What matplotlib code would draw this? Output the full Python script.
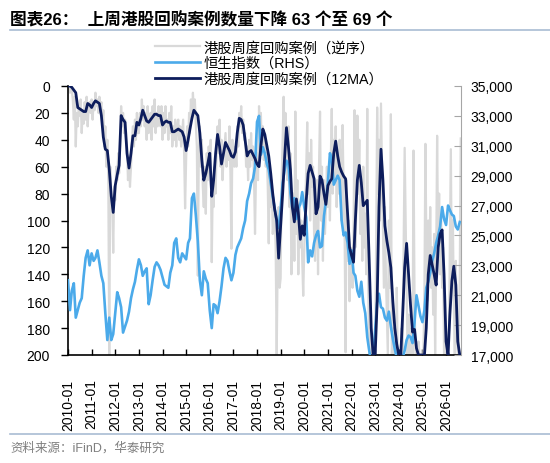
import numpy as np
import pandas as pd
import matplotlib
matplotlib.use('Agg')
import matplotlib.pyplot as plt
import matplotlib.dates as mdates
from matplotlib.lines import Line2D
from matplotlib.ticker import FuncFormatter, MultipleLocator, FixedLocator

plt.rcParams['font.family'] = ['Liberation Sans', 'Noto Sans CJK SC', 'DejaVu Sans']
plt.rcParams['font.size'] = 10

# Casos de recompra semanales (eje izquierdo invertido), leidos cada media mes
recompra_semanal = [
    0, 2, 5, 0, 3, 10, 25, 8, 45, 20, 30, 15, 22, 10, 35, 18, 28, 12, 25, 8, 30, 15, 12, 20,
    10, 25, 12, 18, 5, 15, 10, 20, 8, 18, 12, 30, 18, 45, 30, 60, 40, 70, 200, 60, 90, 85, 124, 75,
    85, 60, 70, 50, 65, 45, 15, 30, 20, 35, 25, 40, 45, 70, 55, 75, 60, 40, 30, 45, 25, 40, 20, 35,
    35, 20, 30, 10, 25, 15, 30, 20, 40, 15, 35, 25, 20, 40, 15, 30, 10, 35, 20, 30, 15, 25, 30, 15,
    40, 20, 35, 15, 30, 25, 40, 20, 35, 15, 45, 30, 40, 25, 45, 30, 25, 40, 30, 45, 35, 25, 50, 91,
    55, 30, 45, 20, 35, 10, 25, 5, 20, 10, 30, 45, 141, 50, 30, 60, 40, 75, 90, 60, 95, 50, 70, 45,
    60, 40, 131, 75, 90, 60, 80, 45, 30, 50, 25, 60, 40, 70, 55, 45, 35, 60, 45, 55, 30, 65, 121, 40,
    55, 60, 45, 60, 30, 45, 20, 30, 15, 35, 25, 40, 35, 60, 45, 70, 40, 60, 35, 55, 45, 70, 110, 65,
    50, 70, 15, 40, 20, 45, 30, 55, 40, 60, 50, 75, 117, 60, 90, 70, 110, 100, 95, 120, 200, 130, 90, 150,
    143, 70, 40, 8, 60, 20, 40, 70, 30, 90, 50, 140, 120, 80, 130, 19, 110, 70, 140, 90, 120, 100, 130, 156,
    120, 90, 60, 27, 80, 50, 100, 40, 75, 60, 110, 130, 90, 70, 140, 60, 19, 100, 60, 130, 70, 110, 90, 60,
    90, 60, 100, 50, 17, 80, 40, 70, 30, 90, 50, 80, 40, 60, 100, 29, 80, 110, 198, 70, 130, 100, 160, 120,
    131, 150, 110, 18, 120, 90, 22, 80, 40, 110, 70, 130, 60, 120, 95, 140, 17, 150, 200, 180, 200, 200, 200, 200,
    200, 120, 16, 80, 40, 100, 13, 60, 110, 150, 90, 140, 170, 200, 100, 150, 21, 200, 180, 200, 200, 200, 150, 200,
    200, 200, 200, 180, 200, 120, 46, 100, 150, 200, 170, 200, 200, 180, 200, 48, 160, 200, 200, 200, 190, 200, 200, 200,
    200, 200, 150, 43, 110, 160, 100, 140, 90, 150, 120, 170, 110, 200, 130, 37, 120, 80, 140, 100, 150, 120, 200, 180,
    200, 200, 200, 180, 120, 47, 150, 100, 160, 200, 130, 180, 200, 200, 140, 39,
]

# Media movil de 12 semanas (eje izquierdo), un valor por mes
recompra_12ma = [
    0, 0, 1, 3, 5, 16, 17, 18, 19, 19, 13, 14,
    16, 13, 11, 12, 13, 22, 38, 47, 48, 62, 82, 94,
    74, 66, 59, 22, 25, 27, 50, 61, 50, 37, 37, 27,
    29, 24, 18, 22, 26, 27, 25, 23, 21, 21, 22, 22,
    29, 27, 26, 27, 27, 34, 34, 33, 32, 33, 34, 38,
    48, 40, 32, 24, 18, 20, 22, 35, 55, 70, 65, 58,
    50, 82, 70, 50, 36, 45, 58, 50, 42, 45, 48, 52,
    53, 49, 35, 24, 25, 29, 40, 52, 49, 48, 51, 54,
    58, 60, 45, 32, 36, 44, 52, 65, 80, 92, 100, 128,
    104, 80, 55, 31, 45, 62, 90, 101, 84, 94, 114, 104,
    111, 85, 65, 59, 64, 69, 95, 90, 67, 70, 80, 88,
    74, 71, 69, 50, 41, 52, 60, 64, 67, 69, 95, 120,
    126, 131, 100, 70, 59, 72, 89, 87, 85, 130, 180, 200,
    200, 160, 90, 47, 70, 104, 115, 124, 135, 160, 180, 192,
    200, 200, 170, 135, 117, 140, 163, 183, 181, 195, 200, 200,
    200, 200, 180, 140, 126, 133, 140, 148, 120, 110, 107, 140,
    190, 200, 170, 145, 134, 148, 190, 200,
]

# Indice Hang Seng (eje derecho), un valor por mes
hsi = [
    22000, 20000, 21300, 21800, 19500, 20000, 20500, 20800, 22300, 23500, 24000, 23000,
    23800, 23300, 23500, 24000, 23200, 22300, 21800, 19800, 18000, 19500, 18000, 18400,
    19800, 21200, 20800, 20200, 18500, 18900, 19300, 19900, 20800, 21400, 21900, 22700,
    23400, 23000, 22300, 22600, 22800, 20400, 21000, 22000, 22900, 23200, 23000, 22700,
    22200, 21700, 21600, 21500, 22500, 23000, 24500, 24800, 23500, 23200, 23800, 23600,
    23400, 24500, 24800, 27500, 27800, 26300, 24600, 22000, 21000, 22600, 22100, 21800,
    20000, 18800, 20400, 20300, 19800, 20600, 21600, 22800, 23500, 23300, 22600, 22000,
    22500, 23700, 24200, 24500, 24800, 25500, 26000, 27300, 27800, 28500, 28800, 29600,
    32600, 33000, 30400, 30900, 30500, 29800, 29400, 28500, 27600, 26800, 26000, 25500,
    26800, 28500, 29300, 30000, 29800, 27800, 26800, 27500, 26100, 26800, 27100, 27900,
    26900, 26200, 23200, 24000, 23600, 24500, 25000, 25300, 24200, 24300, 26300, 27300,
    28600, 30500, 30100, 28400, 28700, 29000, 28700, 26000, 25000, 25200, 24500, 23100,
    24000, 22500, 22300, 21300, 20900, 21900, 20500, 19800, 18200, 17300, 16500, 16800,
    18600, 20500, 21100, 20200, 20100, 19500, 19300, 19900, 18900, 18100, 17400, 16800,
    16500, 16200, 16800, 17300, 18000, 18300, 18200, 17800, 19200, 21000, 20300, 19600,
    19200, 20000, 21500, 21900, 22500, 23300, 23800, 24500, 25000, 25600, 26900, 26100,
    25700, 27000, 26700, 26400, 26300, 25600, 25400, 25900,
]

etiquetas = ['港股周度回购案例（逆序）', '恒生指数（RHS）', '港股周度回购案例（12MA）']
titulo = '图表26：  上周港股回购案例数量下降 63 个至 69 个'
fuente = '资料来源：iFinD，华泰研究'

# Fechas: mensuales y quincenales
meses = pd.date_range('2010-01-01', periods=len(hsi), freq='MS')
quincenas = []
for m in meses:
    quincenas += [m, m + pd.Timedelta(days=15)]
quincenas = pd.DatetimeIndex(quincenas[:len(recompra_semanal)])

col_gris = '#d9d9d9'
col_azul = '#4baaea'
col_oscuro = '#0d1d5c'

fig = plt.figure(figsize=(5.5, 4.64), dpi=100)
ax = fig.add_axes([68/550, 1-356/464, (461-68)/550, (356-87)/464])
ax2 = ax.twinx()
ax3 = ax.twinx()

l1, = ax.plot(quincenas, recompra_semanal, color=col_gris, lw=1.6)
l2, = ax2.plot(meses, hsi, color=col_azul, lw=1.9)
l3, = ax3.plot(meses, recompra_12ma, color=col_oscuro, lw=2.0)

for a in (ax, ax3):
    a.set_ylim(200, 0)
ax2.set_ylim(17000, 35000)
ax.set_xlim(pd.Timestamp('2010-01-01'), pd.Timestamp('2026-08-20'))

ax.yaxis.set_major_locator(MultipleLocator(20))
ax2.yaxis.set_major_locator(FixedLocator(np.arange(17000, 35001, 2000)))
ax2.yaxis.set_major_formatter(FuncFormatter(lambda v, p: f'{v:,.0f}'))
ax.xaxis.set_major_locator(mdates.YearLocator())
ax.xaxis.set_major_formatter(mdates.DateFormatter('%Y-%m'))
plt.setp(ax.get_xticklabels(), rotation=90)

ax.tick_params(axis='x', direction='in', length=4, pad=17, labelsize=10, width=1)
ax.tick_params(axis='y', direction='out', length=5, pad=8, labelsize=10, width=1)
ax2.tick_params(axis='y', direction='in', length=5, pad=7, labelsize=10, color='#a6a6a6')
ax3.set_yticks([])

for a in (ax, ax2, ax3):
    a.spines['top'].set_visible(False)
ax.spines['right'].set_visible(False)
ax3.spines['right'].set_visible(False)
ax3.spines['left'].set_visible(False)
ax3.spines['bottom'].set_visible(False)
ax2.spines['left'].set_visible(False)
ax2.spines['bottom'].set_visible(False)
ax2.spines['right'].set_color('#a6a6a6')
ax.spines['left'].set_linewidth(1.2)
ax.spines['bottom'].set_linewidth(1.2)

fig.legend([l1, l2, l3], etiquetas, loc='upper left', bbox_to_anchor=(148/550, 1-34/464),
           frameon=False, borderpad=0, handlelength=3.1, handletextpad=0.25,
           labelspacing=0.12, fontsize=10.3)

fig.text(10/550, 1-20/464, titulo, fontsize=12, fontweight='bold', va='center', ha='left')
fig.add_artist(Line2D([10/550, 1.0], [1-31/464, 1-31/464], transform=fig.transFigure,
                      color='#a9bcd3', lw=1.2))
fig.add_artist(Line2D([10/550, 1.0], [1-435/464, 1-435/464], transform=fig.transFigure,
                      color='#a9bcd3', lw=1.2))
fig.text(10/550, 1-448/464, fuente, fontsize=9, color='#7f7f7f', va='center', ha='left')

fig.savefig('out.png', dpi=100)
plt.close()
